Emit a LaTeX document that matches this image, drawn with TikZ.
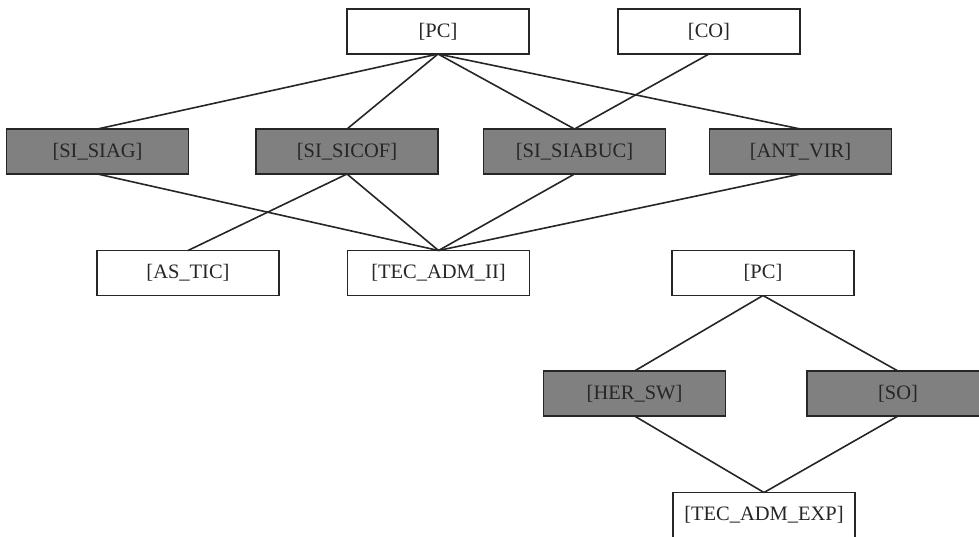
\documentclass[tikz,border=0pt]{standalone}
\usepackage{fontspec}
\setmainfont{Liberation Serif}
\begin{document}
\begin{tikzpicture}[x=1pt,y=-1pt,
  box/.style={draw=black!85, line width=1.7pt, rectangle, minimum width=182pt, minimum height=45pt,
    inner sep=0pt, outer sep=0pt, fill=white, text=black!85, font=\fontsize{20.5}{24}\selectfont},
  grey/.style={box, fill=black!50},
  link/.style={draw=black!85, line width=1.6pt}]
\useasboundingbox (0,0) rectangle (979,536);
\clip (0,0) rectangle (979,536);
% upper lattice
\node[box]  (pc)    at (438,31.5)  {[PC]};
\node[box]  (co)    at (709,31.5)  {[CO]};
\node[grey] (siag)  at (97.5,151.5) {[SI\_SIAG]};
\node[grey] (sicof) at (347,151.5) {[SI\_SICOF]};
\node[grey] (siabuc) at (574.5,151.5) {[SI\_SIABUC]};
\node[grey] (antvir) at (800.5,151.5) {[ANT\_VIR]};
\node[box]  (astic) at (188,273)   {[AS\_TIC]};
\node[box]  (tecii) at (438.5,273) {[TEC\_ADM\_II]};
% lower lattice
\node[box]  (pcb)   at (763,273)   {[PC]};
\node[grey] (hersw) at (634.5,393.5) {[HER\_SW]};
\node[grey] (so)    at (898,393.5) {[SO]};
\node[box]  (tecexp) at (764,515)  {[TEC\_ADM\_EXP]};
% connectors
\draw[link] (pc.south) -- (siag.north);
\draw[link] (pc.south) -- (sicof.north);
\draw[link] (pc.south) -- (siabuc.north);
\draw[link] (pc.south) -- (antvir.north);
\draw[link] (co.south) -- (siabuc.north);
\draw[link] (siag.south) -- (tecii.north);
\draw[link] (sicof.south) -- (astic.north);
\draw[link] (sicof.south) -- (tecii.north);
\draw[link] (siabuc.south) -- (tecii.north);
\draw[link] (antvir.south) -- (tecii.north);
\draw[link] (pcb.south) -- (hersw.north);
\draw[link] (pcb.south) -- (so.north);
\draw[link] (hersw.south) -- (tecexp.north);
\draw[link] (so.south) -- (tecexp.north);
\end{tikzpicture}
\end{document}
